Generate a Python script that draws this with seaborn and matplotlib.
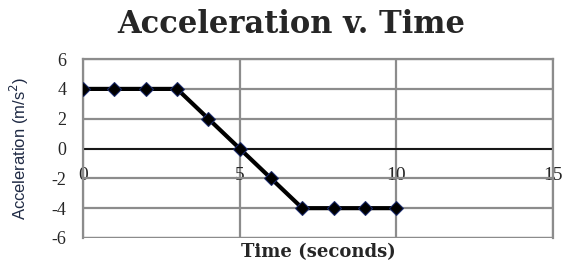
import numpy as np
import matplotlib.pyplot as plt
import pandas as pd
import seaborn as sns

time_s = [0, 1, 2, 3, 4, 5, 6, 7, 8, 9, 10]
accel = [4, 4, 4, 4, 2, 0, -2, -4, -4, -4, -4]
x_ticks = [0, 5, 10, 15]
y_ticks = [-6, -4, -2, 0, 2, 4, 6]

sns.set_style("white")
plt.rcParams['font.family'] = ['Liberation Serif', 'DejaVu Serif']
plt.rcParams['axes.unicode_minus'] = False

df = pd.DataFrame({'Time': time_s, 'Accel': accel})

fig = plt.figure(figsize=(5.77, 2.65), dpi=100)
ax = fig.add_axes([0.144, 0.102, 0.814, 0.675])

sns.lineplot(data=df, x='Time', y='Accel', ax=ax, color='black', lw=3,
             marker='D', markersize=7, markeredgecolor='#1a2a6a',
             markerfacecolor='black', zorder=3)

ax.set_xlim(0, 15)
ax.set_ylim(-6, 6)
ax.set_xticks(x_ticks)
ax.set_yticks(y_ticks)
ax.grid(True, color='#8c8c8c', lw=1.6)
ax.set_axisbelow(True)

for s in ['left', 'right', 'top']:
    ax.spines[s].set_color('#8c8c8c')
    ax.spines[s].set_linewidth(1.6)
ax.spines['bottom'].set_position(('data', 0))
ax.spines['bottom'].set_color('black')
ax.spines['bottom'].set_linewidth(1.2)
ax.spines['bottom'].set_zorder(2)
ax.axhline(-6, color='#8c8c8c', lw=1.6, zorder=0)

ax.tick_params(axis='x', direction='out', length=4, width=1.2, color='black',
               labelsize=14, pad=9)
ax.tick_params(axis='y', length=0, labelsize=13, pad=12)

ax.set_xlabel('Time (seconds)', fontsize=13, fontweight='bold',
              family='DejaVu Serif')
ax.xaxis.set_label_coords(0.5, -0.03)
ax.set_ylabel('Acceleration (m/s$^2$)', fontsize=12, family='Liberation Sans',
              color='#1f2a44')
ax.yaxis.set_label_coords(-0.11, 0.5)

fig.suptitle('Acceleration v. Time', x=0.505, y=0.965, fontsize=22,
             fontweight='bold', family='DejaVu Serif')

fig.savefig('out.png', dpi=100)
